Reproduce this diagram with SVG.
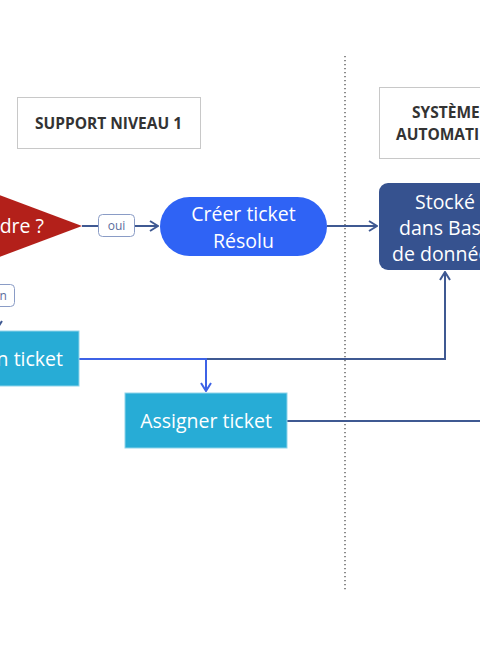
<svg xmlns="http://www.w3.org/2000/svg" width="480" height="650" viewBox="0 0 480 650">
<defs>
<style>
.hdr{fill:#fff;stroke:#c8c8c8;stroke-width:1}
.hdrt{font-family:"Open Sans","Liberation Sans",sans-serif;font-weight:700;font-size:15.5px;fill:#333}
.nt{font-family:"Open Sans","Liberation Sans",sans-serif;font-size:19.5px;fill:#fff}
.lbl{fill:#fff;stroke:#8a9cc6;stroke-width:1}
.lblt{font-family:"Open Sans","Liberation Sans",sans-serif;font-size:12px;fill:#5b6c9c;text-anchor:middle}
.dk{fill:none;stroke:#3f5992;stroke-width:2}
.br{fill:none;stroke:#3d62e6;stroke-width:2}
.cyan{fill:#27acd6;stroke:#8fd4ea;stroke-width:1}
</style>
<marker id="ad" viewBox="0 0 10 12" refX="9" refY="6" markerWidth="10" markerHeight="12" markerUnits="userSpaceOnUse" orient="auto">
<path d="M1,1 L9,6 L1,11" fill="none" stroke="#3f5992" stroke-width="2"/>
</marker>
<marker id="ab" viewBox="0 0 10 12" refX="9" refY="6" markerWidth="10" markerHeight="12" markerUnits="userSpaceOnUse" orient="auto">
<path d="M1,1 L9,6 L1,11" fill="none" stroke="#3d62e6" stroke-width="2"/>
</marker>
</defs>
<rect width="480" height="650" fill="#fff"/>
<line x1="345" y1="56" x2="345" y2="592" stroke="#666" stroke-width="1.5" stroke-dasharray="1.3 2.7"/>
<g id="hdr-support">
<rect class="hdr" x="17.5" y="97.5" width="183" height="51"/>
<text class="hdrt" x="108.5" y="128.5" text-anchor="middle">SUPPORT NIVEAU 1</text>
</g>
<g id="hdr-systeme">
<rect class="hdr" x="379.5" y="87.5" width="130" height="71"/>
<text class="hdrt" x="412" y="118">SYSTÈME</text>
<text class="hdrt" x="396" y="140">AUTOMATI</text>
</g>
<g id="connectors">
<path class="dk" d="M82,226 H158" marker-end="url(#ad)"/>
<path class="dk" d="M327,226 H377" marker-end="url(#ad)"/>
<path class="dk" d="M-3,271 V329" marker-end="url(#ad)"/>
<path class="dk" d="M79,359 H445 V272" marker-end="url(#ad)"/>
<path class="br" d="M79,359 H206 V391" marker-end="url(#ab)"/>
<path class="dk" d="M287,421 H480"/>
<g id="lbl-oui">
<rect class="lbl" x="98.5" y="214.5" width="36" height="22" rx="4"/>
<text class="lblt" x="116.5" y="230">oui</text>
</g>
<g id="lbl-non">
<rect class="lbl" x="-21.5" y="284.5" width="36" height="22" rx="4"/>
<text class="lblt" x="-4" y="300">non</text>
</g>
</g>
<g id="decision">
<polygon points="82,226 -38,181 -158,226 -38,271" fill="#b3201a"/>
<text class="nt" x="44" y="233" text-anchor="end">dre ?</text>
</g>
<g id="creer">
<rect x="160" y="197" width="167" height="59" rx="29.5" fill="#2f63f5"/>
<text class="nt" x="243.5" y="221" text-anchor="middle">Créer ticket</text>
<text class="nt" x="243.5" y="248" text-anchor="middle">Résolu</text>
</g>
<g id="stocke">
<rect x="379" y="183" width="140" height="87" rx="9" fill="#36528f"/>
<text class="nt" x="415" y="209">Stocké</text>
<text class="nt" x="399" y="235">dans Base</text>
<text class="nt" x="392" y="261">de donnée</text>
</g>
<g id="creation">
<rect class="cyan" x="-40" y="331" width="119" height="55"/>
<text class="nt" x="63" y="366" text-anchor="end">n ticket</text>
</g>
<g id="assigner">
<rect class="cyan" x="125" y="393" width="162" height="55"/>
<text class="nt" x="206" y="428" text-anchor="middle">Assigner ticket</text>
</g>
</svg>
